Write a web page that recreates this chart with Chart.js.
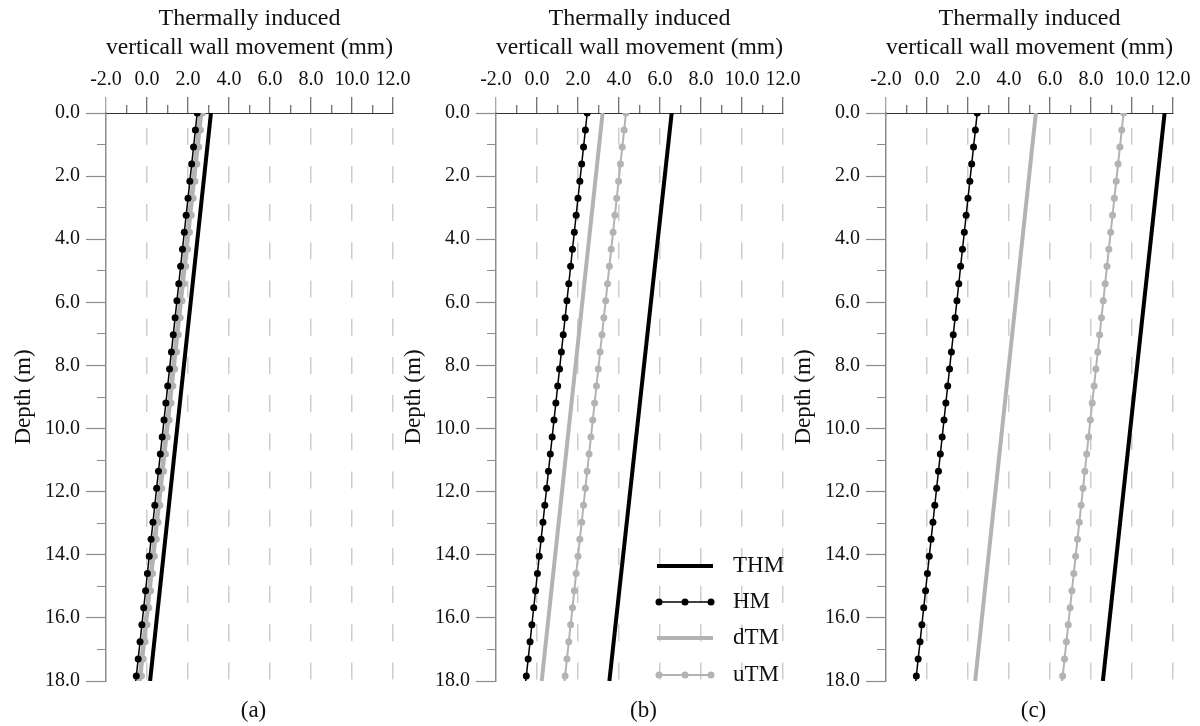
<!DOCTYPE html>
<html lang="en">
<head>
<meta charset="UTF-8">
<title>Thermally induced vertical wall movement</title>
<script src="https://cdn.jsdelivr.net/npm/chart.js"></script>
<style>
  body { margin: 0; background: #fff; }
  .panel { position: absolute; top: 0; width: 403px; height: 726px; }
</style>
</head>
<body>
<div class="panel" style="left:10px"><canvas id="chartA" width="403" height="726"></canvas></div>
<div class="panel" style="left:400px"><canvas id="chartB" width="403" height="726"></canvas></div>
<div class="panel" style="left:790px"><canvas id="chartC" width="403" height="726"></canvas></div>

<script>
// depth of the wall nodes (m); the last one (toe of the wall) has no marker
const depthNodes = [0, 0.54, 1.08, 1.62, 2.16, 2.70, 3.24, 3.78, 4.32, 4.86, 5.41, 5.95,
  6.49, 7.03, 7.57, 8.11, 8.65, 9.19, 9.73, 10.27, 10.81, 11.35, 11.89, 12.43, 12.97,
  13.51, 14.05, 14.59, 15.14, 15.68, 16.22, 16.76, 17.30, 17.84, 18];
const markerCount = 34;
const depthEnds = [0, 18];

// HM - same for the three cases (mm)
const hmMove = [2.45, 2.36, 2.27, 2.18, 2.09, 2.00, 1.91, 1.82, 1.73, 1.64, 1.55, 1.46,
  1.37, 1.28, 1.19, 1.10, 1.01, 0.92, 0.83, 0.74, 0.65, 0.56, 0.47, 0.38, 0.29, 0.20,
  0.11, 0.02, -0.07, -0.16, -0.25, -0.34, -0.43, -0.52, -0.55];

// (a)
const thmA = [3.12, 0.15];
const dtmA = [2.60, -0.38];
const utmA = [2.70, 2.61, 2.52, 2.43, 2.34, 2.25, 2.16, 2.07, 1.98, 1.89, 1.80, 1.71,
  1.62, 1.53, 1.44, 1.35, 1.26, 1.17, 1.08, 0.99, 0.90, 0.81, 0.72, 0.63, 0.54, 0.45,
  0.36, 0.27, 0.18, 0.09, 0.00, -0.09, -0.18, -0.27, -0.30];

// (b)
const thmB = [6.57, 3.53];
const dtmB = [3.20, 0.23];
const utmB = [4.34, 4.25, 4.16, 4.07, 3.98, 3.89, 3.80, 3.71, 3.62, 3.53, 3.44, 3.35,
  3.26, 3.17, 3.08, 2.99, 2.90, 2.81, 2.72, 2.63, 2.54, 2.45, 2.36, 2.27, 2.18, 2.09,
  2.00, 1.91, 1.82, 1.73, 1.64, 1.55, 1.46, 1.37, 1.34];

// (c)
const thmC = [11.59, 8.58];
const dtmC = [5.31, 2.35];
const utmC = [9.59, 9.50, 9.41, 9.32, 9.23, 9.14, 9.05, 8.96, 8.87, 8.78, 8.69, 8.60,
  8.51, 8.42, 8.33, 8.24, 8.15, 8.06, 7.97, 7.88, 7.79, 7.70, 7.61, 7.52, 7.43, 7.34,
  7.25, 7.16, 7.07, 6.98, 6.89, 6.80, 6.71, 6.62, 6.59];

const xTitle = ['Thermally induced', 'verticall wall movement (mm)'];
const yTitle = 'Depth (m)';
const serif = "'Liberation Serif', 'Times New Roman', serif";
const grey = '#b3b3b3';

Chart.defaults.font.family = serif;
Chart.defaults.color = '#111';

function pts(xs, ys) {
  return xs.map((v, i) => ({ x: v, y: ys[i] }));
}

const markerRadius = c => c.dataIndex < markerCount ? 3.5 : 0;

// caption under each plot
const captionPlugin = {
  id: 'panelCaption',
  afterDraw(chart, args, opts) {
    const { ctx, chartArea } = chart;
    ctx.save();
    ctx.font = '23px ' + serif;
    ctx.fillStyle = '#111';
    ctx.textAlign = 'center';
    ctx.textBaseline = 'middle';
    ctx.fillText(opts.text, (chartArea.left + chartArea.right) / 2 + 4, chartArea.bottom + 30);
    ctx.restore();
  }
};

// legend with line + dots, only on the middle panel
const lineLegend = {
  id: 'lineLegend',
  afterDraw(chart) {
    const { ctx, chartArea } = chart;
    const x0 = chartArea.right - 126, x1 = chartArea.right - 70;
    const rows = [-115, -79, -43, -6];
    ctx.save();
    chart.data.datasets.forEach((ds, i) => {
      const y = chartArea.bottom + rows[i];
      ctx.strokeStyle = ds.borderColor;
      ctx.lineWidth = ds.borderWidth;
      ctx.beginPath();
      ctx.moveTo(x0, y);
      ctx.lineTo(x1, y);
      ctx.stroke();
      if (ds.pointRadius !== 0) {
        ctx.fillStyle = ds.pointBackgroundColor;
        [x0 + 2, (x0 + x1) / 2, x1 - 2].forEach(px => {
          ctx.beginPath();
          ctx.arc(px, y, 3.5, 0, Math.PI * 2);
          ctx.fill();
        });
      }
      ctx.fillStyle = '#111';
      ctx.font = '23px ' + serif;
      ctx.textBaseline = 'middle';
      ctx.fillText(ds.label, chartArea.right - 50, y);
    });
    ctx.restore();
  }
};

function makePanel(id, thm, dtm, utm, caption, withLegend) {
  const plugins = [captionPlugin];
  if (withLegend) plugins.push(lineLegend);
  return new Chart(document.getElementById(id), {
    type: 'line',
    data: {
      datasets: [
        { label: 'THM', data: pts(thm, depthEnds), borderColor: '#000', borderWidth: 4,
          pointRadius: 0, order: 1 },
        { label: 'HM', data: pts(hmMove, depthNodes), borderColor: '#000', borderWidth: 1.5,
          pointRadius: markerRadius, pointBackgroundColor: '#000', pointBorderWidth: 0, order: 0 },
        { label: 'dTM', data: pts(dtm, depthEnds), borderColor: grey, borderWidth: 4,
          pointRadius: 0, order: 3 },
        { label: 'uTM', data: pts(utm, depthNodes), borderColor: grey, borderWidth: 2,
          pointRadius: markerRadius, pointBackgroundColor: grey, pointBorderWidth: 0, order: 2 }
      ]
    },
    options: {
      responsive: false,
      animation: false,
      devicePixelRatio: 1,
      layout: { padding: { left: 0, right: 20, top: 0, bottom: 45 } },
      elements: { line: { tension: 0, borderCapStyle: 'butt' }, point: { hoverRadius: 0 } },
      plugins: {
        legend: { display: false },
        tooltip: { enabled: false },
        panelCaption: { text: caption }
      },
      scales: {
        x: {
          type: 'linear',
          position: 'top',
          min: -2,
          max: 12,
          afterFit: s => { s.height = 113; s.paddingLeft = 0; s.paddingRight = 0; },
          ticks: {
            stepSize: 1,
            autoSkip: false,
            maxRotation: 0,
            minRotation: 0,
            padding: 5,
            font: { size: 20 },
            callback: v => v % 2 === 0 ? v.toFixed(1) : ''
          },
          grid: {
            lineWidth: 1.5,
            color: c => (c.tick && c.tick.value % 2 === 0 && c.tick.value > -2) ? '#cdcdcd' : 'rgba(0,0,0,0)',
            tickLength: 16,
            tickWidth: 1,
            tickColor: c => (c.tick && c.tick.value === -2) ? '#8c8c8c' : '#444',
            tickBorderDash: c => (c.tick && c.tick.value % 2 !== 0) ? [0, 8, 8, 0] : [],
            tickBorderDashOffset: 0
          },
          // in v4 the grid line dash lives under border
          border: { color: '#333', width: 1, dash: [17, 21.2], dashOffset: 24.5 },
          title: {
            display: true,
            text: xTitle,
            font: { size: 24, lineHeight: 1.21 },
            padding: { top: 4, bottom: 0 }
          }
        },
        y: {
          type: 'linear',
          reverse: true,
          min: 0,
          max: 18,
          afterFit: s => { s.width = 96; },
          ticks: {
            stepSize: 1,
            autoSkip: false,
            padding: 6,
            font: { size: 20 },
            callback: v => v % 2 === 0 ? v.toFixed(1) : ''
          },
          grid: {
            drawOnChartArea: false,
            tickLength: 20,
            tickWidth: 1.2,
            tickColor: '#8c8c8c',
            tickBorderDash: c => (c.tick && c.tick.value % 2 !== 0) ? [0, 11, 9, 0] : [],
            tickBorderDashOffset: 0
          },
          border: { color: '#8c8c8c', width: 1.5 },
          title: {
            display: true,
            text: yTitle,
            font: { size: 23 },
            padding: 0
          }
        }
      }
    },
    plugins: plugins
  });
}

makePanel('chartA', thmA, dtmA, utmA, '(a)', false);
makePanel('chartB', thmB, dtmB, utmB, '(b)', true);
makePanel('chartC', thmC, dtmC, utmC, '(c)', false);
</script>
</body>
</html>
